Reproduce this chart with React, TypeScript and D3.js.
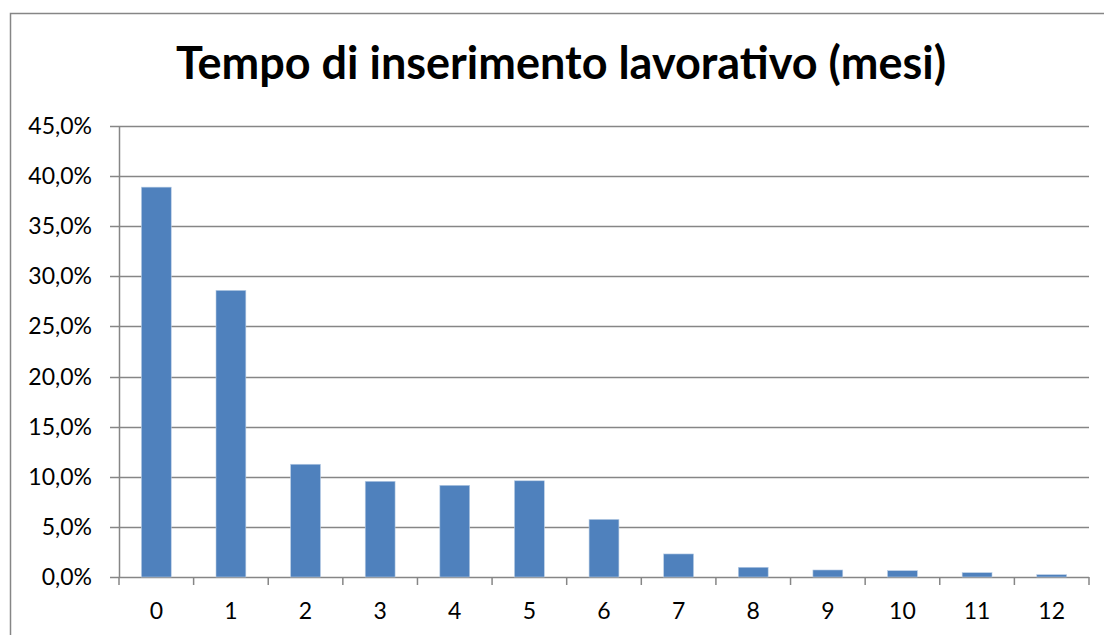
import React from "react";
import * as d3 from "d3";

const categories = ["0", "1", "2", "3", "4", "5", "6", "7", "8", "9", "10", "11", "12"];
const values = [38.9, 28.6, 11.25, 9.55, 9.15, 9.6, 5.75, 2.3, 0.97, 0.7, 0.63, 0.43, 0.23];
const yTicks = [0, 5, 10, 15, 20, 25, 30, 35, 40, 45];
const title = "Tempo di inserimento lavorativo (mesi)";

export default function App() {
  const W = 1104, H = 635;
  const left = 119, right = 1089, top = 126, bottom = 577;
  const x = d3.scaleBand<string>().domain(categories).range([left, right]).paddingInner(0.6).paddingOuter(0.3);
  const xb = d3.scaleBand<string>().domain(categories).range([left, right]);
  const y = d3.scaleLinear().domain([0, 45]).range([bottom, top]);
  const fmt = (v: number) => v.toFixed(1).replace(".", ",") + "%";
  const grid = "#868686";
  const font = "Lato, Carlito, Calibri, sans-serif";
  return (
    <svg width={W} height={H} style={{ position: "absolute", left: 0, top: 0, background: "#fff" }}>
      <rect x={10.5} y={13.5} width={1200} height={700} fill="#fff" stroke={grid} strokeWidth={1.5} />
      <text x={561} y={79} textAnchor="middle" fontFamily={font} fontWeight="bold" fontSize={45} fill="#000">
        {title}
      </text>
      {yTicks.map((t) => (
        <g key={t}>
          <line x1={110} x2={right} y1={Math.round(y(t)) + 0.5} y2={Math.round(y(t)) + 0.5} stroke={grid} strokeWidth={1.5} />
          <text x={92} y={y(t) + 8} textAnchor="end" fontFamily={font} fontSize={23} fill="#000">
            {fmt(t)}
          </text>
        </g>
      ))}
      <line x1={left + 0.5} x2={left + 0.5} y1={top} y2={bottom} stroke={grid} strokeWidth={1.5} />
      {categories.map((c) => (
        <line key={"t" + c} x1={xb(c)!} x2={xb(c)!} y1={bottom} y2={bottom + 8} stroke={grid} strokeWidth={1.5} />
      ))}
      <line x1={right} x2={right} y1={bottom} y2={bottom + 8} stroke={grid} strokeWidth={1.5} />
      {categories.map((c, i) => (
        <rect
          key={"b" + c}
          x={x(c)!}
          y={y(values[i])}
          width={x.bandwidth()}
          height={y(0) - y(values[i])}
          fill="#4F81BD"
          stroke="#b9cde5"
          strokeWidth={0.6}
        />
      ))}
      {categories.map((c) => (
        <text key={"l" + c} x={xb(c)! + xb.bandwidth() / 2} y={619} textAnchor="middle" fontFamily={font} fontSize={23} fill="#000">
          {c}
        </text>
      ))}
    </svg>
  );
}
